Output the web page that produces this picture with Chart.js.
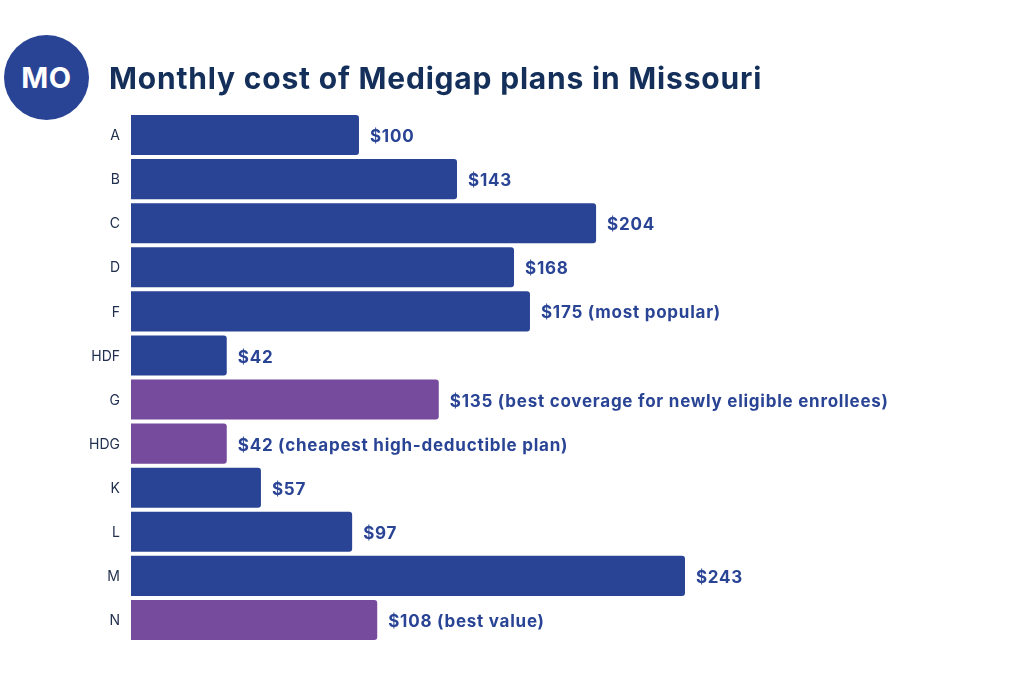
<!DOCTYPE html>
<html><head><meta charset="utf-8">
<style>
html,body{margin:0;padding:0;background:#fff}
#wrap{position:relative;width:1024px;height:676px;overflow:hidden}
canvas{position:absolute;left:0;top:0}
#badge{position:absolute;left:4px;top:35px;width:85px;height:85px;border-radius:50%;background:#2a4495;color:#fff;font:700 29px Inter,sans-serif;letter-spacing:.5px;display:flex;align-items:center;justify-content:center}
#title{position:absolute;left:109px;top:60px;font:700 30px Inter,sans-serif;line-height:36px;letter-spacing:.8px;color:#14305a;white-space:nowrap}
</style></head><body>
<div id="wrap">
<canvas id="c" width="1024" height="676"></canvas>
<div id="badge">MO</div>
<div id="title">Monthly cost of Medigap plans in Missouri</div>
</div>
<script src="https://cdn.jsdelivr.net/npm/chart.js@4"></script>
<script>
const categories=["A","B","C","D","F","HDF","G","HDG","K","L","M","N"];
const costs=[100,143,204,168,175,42,135,42,57,97,243,108];
const valueLabels=["$100","$143","$204","$168","$175 (most popular)","$42","$135 (best coverage for newly eligible enrollees)","$42 (cheapest high-deductible plan)","$57","$97","$243","$108 (best value)"];
const blue="#2a4495",purple="#764a9c";
const barColors=[blue,blue,blue,blue,blue,blue,purple,purple,blue,blue,blue,purple];
const labelPlugin={id:"valueLabels",afterDatasetsDraw(chart){
  const ctx=chart.ctx,meta=chart.getDatasetMeta(0);
  ctx.save();ctx.font='700 17px Inter,sans-serif';ctx.letterSpacing="0.75px";ctx.fillStyle=blue;ctx.textBaseline="middle";
  meta.data.forEach((b,i)=>ctx.fillText(valueLabels[i],b.x+11,b.y+2));
  ctx.restore();
}};
new Chart(document.getElementById("c"),{
  type:"bar",
  data:{labels:categories,datasets:[{data:costs,backgroundColor:barColors,borderRadius:{topRight:3,bottomRight:3},borderSkipped:"left",categoryPercentage:1,barPercentage:0.91}]},
  options:{responsive:false,animation:false,indexAxis:"y",
    layout:{padding:{top:113,bottom:34,left:0,right:0}},
    plugins:{legend:{display:false},tooltip:{enabled:false}},
    scales:{
      x:{min:0,max:391.7,display:false},
      y:{afterFit(s){s.width=131},grid:{display:false,drawTicks:false},border:{display:false},
         ticks:{color:"#22304f",font:{size:14,family:'Inter,sans-serif'},padding:11,labelOffset:1}}
    }
  },
  plugins:[labelPlugin]
});
</script>
</body></html>
